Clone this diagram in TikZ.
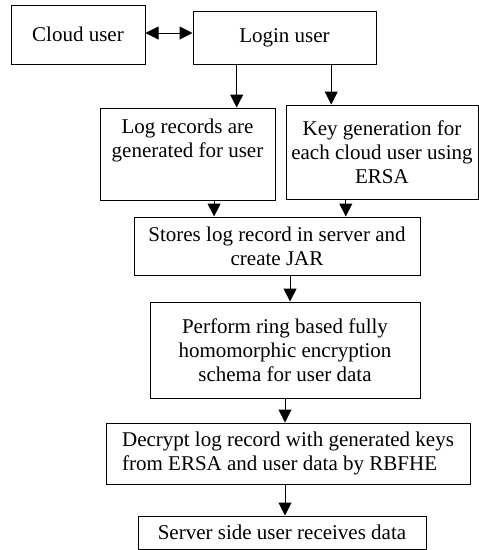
\documentclass[tikz,border=0pt]{standalone}
\usepackage{fontspec}
\setmainfont{Liberation Serif}
\usetikzlibrary{positioning,arrows.meta,calc}

\begin{document}
\begin{tikzpicture}[x=1pt,y=-1pt,
  font=\fontsize{21}{24}\selectfont,
  box/.style={draw,line width=1pt,inner sep=0pt,align=center},
  ar/.style={-{Triangle[length=13pt,width=13pt]},line width=1pt}
]
\useasboundingbox (0,0) rectangle (479,550);
% top row
\node[box,minimum width=134pt,minimum height=59pt] (cloud) at (78,34.5) {Cloud user};
\node[box,minimum width=183pt,minimum height=53pt] (login) at (284.5,37.5) {Login user};
\draw[{Triangle[length=13pt,width=13pt]}-{Triangle[length=13pt,width=13pt]},line width=1pt]
     (cloud.east |- 0,33) -- (login.west |- 0,33);
% second row
\node[box,minimum width=175pt,minimum height=92pt] (logrec) at (187.5,154)
     {Log records are\\generated for user\\[8pt]};
\node[box,minimum width=192pt,minimum height=94pt] (keygen) at (382,152)
     {Key generation for\\each cloud user using\\ERSA};
\draw[ar] ($(login.south west)!.24!(login.south east)$) coordinate (l1) -- (l1 |- logrec.north);
\draw[ar] ($(login.south west)!.754!(login.south east)$) coordinate (l2) -- (l2 |- keygen.north);
% chain
\node[box,minimum width=286pt,minimum height=58pt] (store) at (277,246)
     {Stores log record in server and\\create JAR};
\draw[ar] ($(logrec.south west)!.651!(logrec.south east)$) coordinate (r1) -- (r1 |- store.north);
\draw[ar] ($(keygen.south west)!.3125!(keygen.south east)$) coordinate (r2) -- (r2 |- store.north);
\node[box,minimum width=270pt,minimum height=96pt] (rbfhe) at (285,350)
     {Perform ring based fully\\homomorphic encryption\\schema for user data};
\draw[ar] ($(store.south west)!.5455!(store.south east)$) coordinate (s1) -- (s1 |- rbfhe.north);
\node[box,minimum width=364pt,minimum height=61pt,align=left] (decrypt) at (288,453.5)
     {Decrypt log record with generated keys\\from ERSA and user data by RBFHE};
\draw[ar] (rbfhe.south) -- (rbfhe.south |- decrypt.north);
\node[box,minimum width=288pt,minimum height=33pt] (receive) at (282,532.5)
     {Server side user receives data};
\draw[ar] (rbfhe.south |- decrypt.south) -- (rbfhe.south |- receive.north);
\end{tikzpicture}
\end{document}
